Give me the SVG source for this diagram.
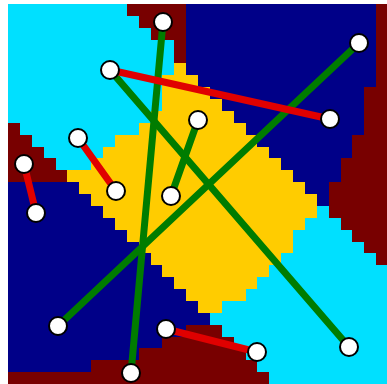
<svg xmlns="http://www.w3.org/2000/svg" width="387" height="384" viewBox="0 0 387 384">
<style>
.c{fill:#00e0ff}.n{fill:#000088}.r{fill:#780000}.y{fill:#ffcc00}
.g{stroke:#007c00;stroke-width:7;stroke-linecap:round}
.e{stroke:#e00000;stroke-width:7;stroke-linecap:round}
.p{fill:#ffffff;stroke:#000000;stroke-width:2}
</style>
<rect width="387" height="384" fill="#ffffff"/>
<g id="field" transform="translate(8,4) scale(11.875)" shape-rendering="crispEdges">
<rect class="c" x="0" y="0" width="32" height="32"/>
<rect class="r" x="10" y="0" width="5" height="1"/><rect class="n" x="15" y="0" width="16" height="1"/><rect class="r" x="31" y="0" width="1" height="7"/>
<rect class="r" x="11" y="1" width="4" height="1"/><rect class="n" x="15" y="1" width="16" height="1"/>
<rect class="r" x="12" y="2" width="3" height="1"/><rect class="n" x="15" y="2" width="16" height="1"/>
<rect class="r" x="14" y="3" width="1" height="2"/><rect class="n" x="15" y="3" width="16" height="2"/>
<rect class="y" x="14" y="5" width="1" height="1"/><rect class="n" x="15" y="5" width="16" height="1"/>
<rect class="y" x="13" y="6" width="3" height="1"/><rect class="n" x="16" y="6" width="15" height="1"/>
<rect class="y" x="13" y="7" width="4" height="1"/><rect class="n" x="17" y="7" width="13" height="1"/><rect class="r" x="30" y="7" width="2" height="4"/>
<rect class="y" x="13" y="8" width="5" height="1"/><rect class="n" x="18" y="8" width="12" height="1"/>
<rect class="y" x="12" y="9" width="7" height="1"/><rect class="n" x="19" y="9" width="11" height="1"/>
<rect class="r" x="0" y="10" width="1" height="1"/><rect class="y" x="11" y="10" width="9" height="1"/><rect class="n" x="20" y="10" width="10" height="1"/>
<rect class="r" x="0" y="11" width="2" height="1"/><rect class="y" x="9" y="11" width="12" height="1"/><rect class="n" x="21" y="11" width="8" height="1"/><rect class="r" x="29" y="11" width="3" height="2"/>
<rect class="r" x="0" y="12" width="3" height="1"/><rect class="y" x="8" y="12" width="14" height="1"/><rect class="n" x="22" y="12" width="7" height="1"/>
<rect class="r" x="0" y="13" width="4" height="1"/><rect class="y" x="7" y="13" width="16" height="1"/><rect class="n" x="23" y="13" width="5" height="1"/><rect class="r" x="28" y="13" width="4" height="2"/>
<rect class="r" x="0" y="14" width="5" height="1"/><rect class="y" x="5" y="14" width="19" height="1"/><rect class="n" x="24" y="14" width="4" height="1"/>
<rect class="n" x="0" y="15" width="6" height="1"/><rect class="y" x="6" y="15" width="19" height="1"/><rect class="n" x="25" y="15" width="2" height="1"/><rect class="r" x="27" y="15" width="5" height="3"/>
<rect class="n" x="0" y="16" width="7" height="1"/><rect class="y" x="7" y="16" width="19" height="1"/><rect class="n" x="26" y="16" width="1" height="1"/>
<rect class="n" x="0" y="17" width="8" height="1"/><rect class="y" x="8" y="17" width="18" height="1"/>
<rect class="n" x="0" y="18" width="9" height="1"/><rect class="y" x="9" y="18" width="16" height="1"/><rect class="r" x="28" y="18" width="4" height="1"/>
<rect class="n" x="0" y="19" width="10" height="1"/><rect class="y" x="10" y="19" width="14" height="1"/><rect class="r" x="29" y="19" width="3" height="1"/>
<rect class="n" x="0" y="20" width="11" height="1"/><rect class="y" x="11" y="20" width="13" height="1"/><rect class="r" x="30" y="20" width="2" height="1"/>
<rect class="n" x="0" y="21" width="12" height="1"/><rect class="y" x="12" y="21" width="11" height="1"/><rect class="r" x="31" y="21" width="1" height="1"/>
<rect class="n" x="0" y="22" width="13" height="1"/><rect class="y" x="13" y="22" width="9" height="1"/>
<rect class="n" x="0" y="23" width="14" height="1"/><rect class="y" x="14" y="23" width="7" height="1"/>
<rect class="n" x="0" y="24" width="15" height="1"/><rect class="y" x="15" y="24" width="5" height="1"/>
<rect class="n" x="0" y="25" width="16" height="1"/><rect class="y" x="16" y="25" width="2" height="1"/>
<rect class="n" x="0" y="26" width="17" height="1"/>
<rect class="n" x="0" y="27" width="15" height="1"/><rect class="r" x="15" y="27" width="3" height="1"/>
<rect class="n" x="0" y="28" width="13" height="1"/><rect class="r" x="13" y="28" width="6" height="1"/>
<rect class="n" x="0" y="29" width="11" height="1"/><rect class="r" x="11" y="29" width="9" height="1"/>
<rect class="n" x="0" y="30" width="7" height="1"/><rect class="r" x="7" y="30" width="14" height="1"/>
<rect class="r" x="0" y="31" width="22" height="1"/>
</g>
<g id="connectors">
<line class="g" x1="163" y1="22" x2="131" y2="373"/>
<line class="g" x1="110" y1="70" x2="349" y2="347"/>
<line class="g" x1="359" y1="43" x2="58" y2="326"/>
<line class="g" x1="198" y1="120" x2="171" y2="196"/>
<line class="e" x1="110" y1="70" x2="330" y2="119"/>
<line class="e" x1="78" y1="138" x2="116" y2="191"/>
<line class="e" x1="24" y1="164" x2="36" y2="213"/>
<line class="e" x1="166" y1="329" x2="257" y2="352"/>
</g>
<g id="nA"><circle class="p" cx="163" cy="22" r="9"/></g>
<g id="nB"><circle class="p" cx="110" cy="70" r="9"/></g>
<g id="nC"><circle class="p" cx="359" cy="43" r="9"/></g>
<g id="nD"><circle class="p" cx="330" cy="119" r="9"/></g>
<g id="nE"><circle class="p" cx="198" cy="120" r="9"/></g>
<g id="nF"><circle class="p" cx="78" cy="138" r="9"/></g>
<g id="nG"><circle class="p" cx="24" cy="164" r="9"/></g>
<g id="nH"><circle class="p" cx="116" cy="191" r="9"/></g>
<g id="nI"><circle class="p" cx="171" cy="196" r="9"/></g>
<g id="nJ"><circle class="p" cx="36" cy="213" r="9"/></g>
<g id="nK"><circle class="p" cx="58" cy="326" r="9"/></g>
<g id="nL"><circle class="p" cx="166" cy="329" r="9"/></g>
<g id="nM"><circle class="p" cx="257" cy="352" r="9"/></g>
<g id="nN"><circle class="p" cx="349" cy="347" r="9"/></g>
<g id="nO"><circle class="p" cx="131" cy="373" r="9"/></g>
</svg>
